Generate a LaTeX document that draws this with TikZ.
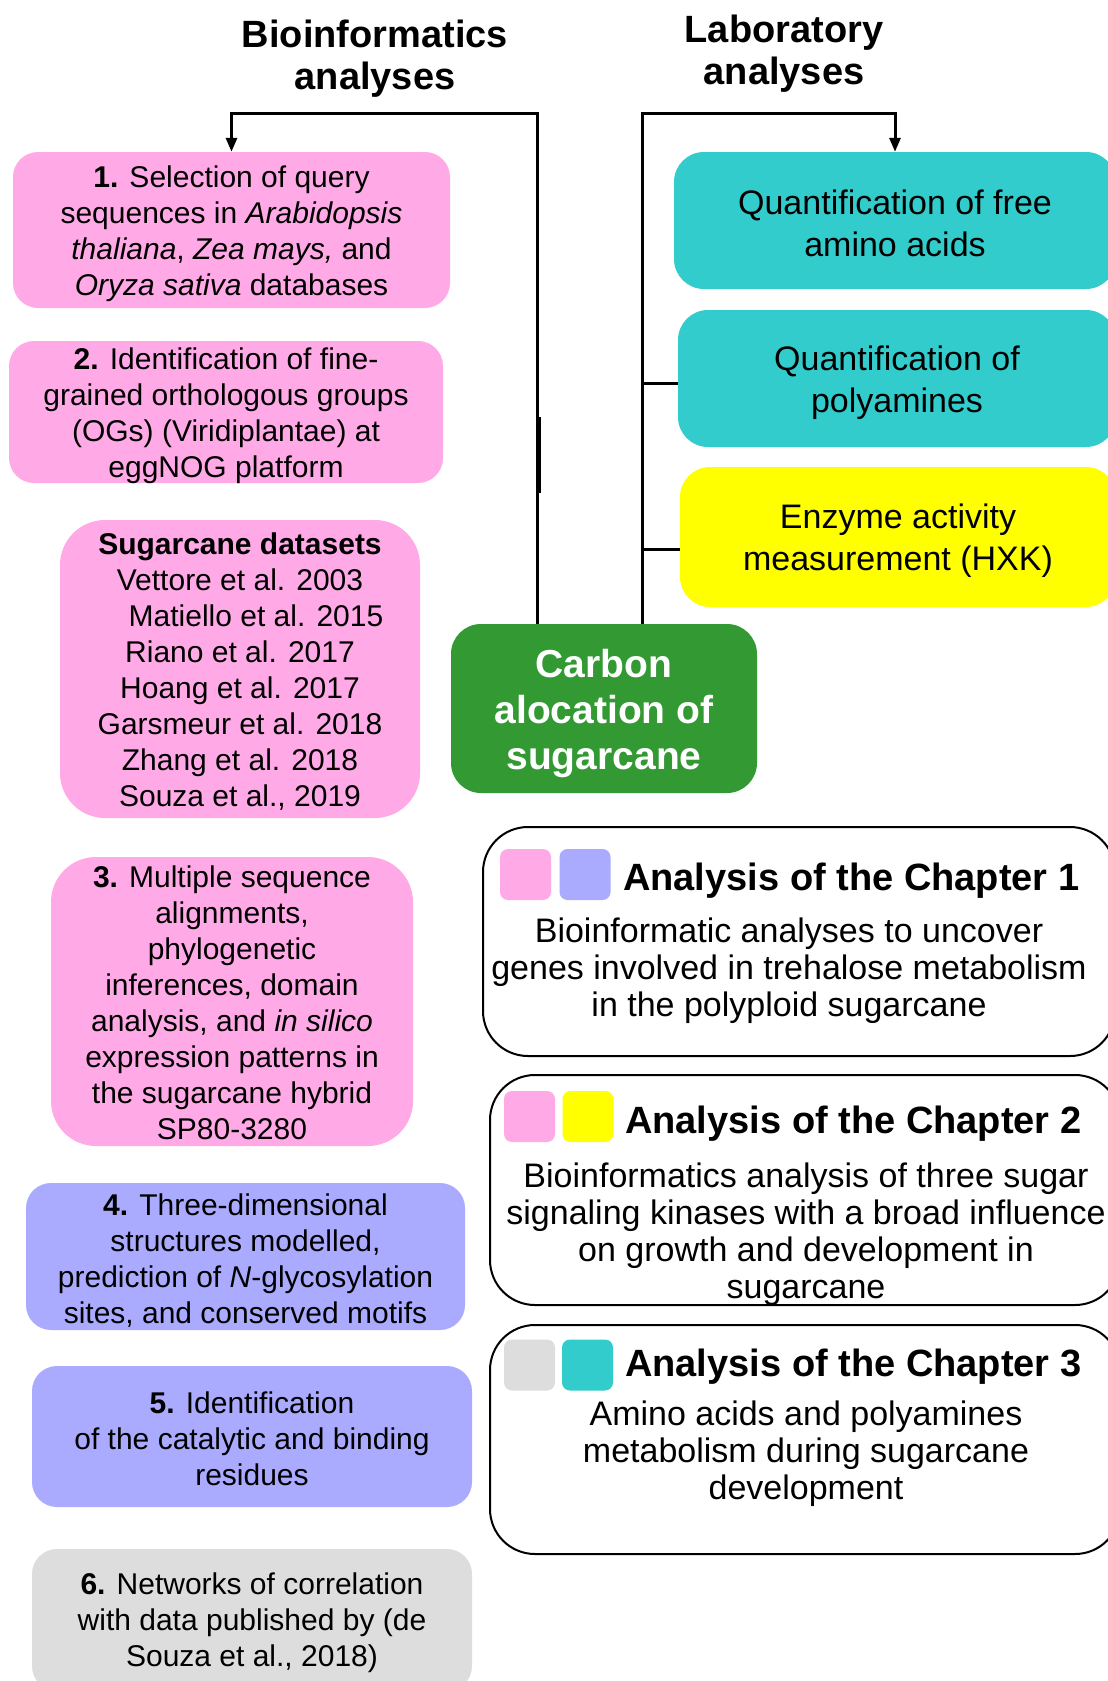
\documentclass[tikz,border=0pt]{standalone}
\usepackage{fontspec}
\setmainfont{Liberation Sans}
\usetikzlibrary{arrows.meta,calc}
\definecolor{cpink}{HTML}{FFAAE6}
\definecolor{clav}{HTML}{AAAAFF}
\definecolor{cgray}{HTML}{DDDDDD}
\definecolor{cteal}{HTML}{33CCCC}
\definecolor{cyel}{HTML}{FFFF00}
\definecolor{cgreen}{HTML}{339933}
\begin{document}
\begin{tikzpicture}[x=1pt,y=-1pt,
  box/.style={inner sep=0pt, anchor=center},
  txt/.style={inner sep=0pt, align=center, anchor=center},
  lefttxt/.style={txt, font=\fontsize{30}{36}\selectfont},
  labtxt/.style={txt, font=\fontsize{34}{42}\selectfont},
  headtxt/.style={font=\bfseries\fontsize{38}{42}\selectfont, align=center, inner sep=0pt},
  chbox/.style={box, draw=black, line width=2pt, fill=white, rounded corners=45pt},
  sq/.style={inner sep=0pt, minimum width=51pt, minimum height=51pt, rounded corners=8pt},
  chtitle/.style={font=\bfseries\fontsize{38}{42}\selectfont, anchor=west, inner sep=0pt},
  chbody/.style={font=\fontsize{34}{37}\selectfont, align=center, inner sep=0pt},
  conn/.style={line width=3pt},
  arr/.style={line width=3pt, -{Triangle[width=11pt,length=14pt]}}]
\useasboundingbox (0,0) rectangle (1108,1681);
\clip (0,0) rectangle (1108,1681);
\fill[white] (0,0) rectangle (1108,1681);

% headings
\node[headtxt] (hbio) at (375,59) {Bioinformatics\\analyses};
\node[headtxt] (hlab) at (784,54) {Laboratory\\analyses};

% left column boxes
\node[box, fill=cpink, rounded corners=25pt, minimum width=437pt, minimum height=156pt] (b1) at (231.5,230) {};
\node[lefttxt] (b1t) at ([yshift=-4pt]b1.center)
  {\textbf{1.} Selection of query\\sequences in \textit{Arabidopsis}\\\textit{thaliana}, \textit{Zea mays,} and\\\textit{Oryza sativa} databases};
\node[box, fill=cpink, rounded corners=25pt, minimum width=434pt, minimum height=142pt] (b2) at (226,412) {};
\node[lefttxt] (b2t) at ([yshift=-4pt]b2.center)
  {\textbf{2.} Identification of fine-\\grained orthologous groups\\(OGs) (Viridiplantae) at\\eggNOG platform};
\node[box, fill=cpink, rounded corners=45pt, minimum width=360pt, minimum height=298pt] (ds) at (240,669) {};
\node[lefttxt] (dst) at ([yshift=-3pt]ds.center)
  {\textbf{Sugarcane datasets}\\Vettore et al. 2003\\\hspace*{32pt}Matiello et al. 2015\\Riano et al. 2017\\Hoang et al. 2017\\Garsmeur et al. 2018\\Zhang et al. 2018\\Souza et al., 2019};
\node[box, fill=cpink, rounded corners=45pt, minimum width=362pt, minimum height=289pt] (b3) at (232,1001.5) {};
\node[lefttxt] (b3t) at ([yshift=-1.5pt]b3.center)
  {\textbf{3.} Multiple sequence\\alignments,\\phylogenetic\\inferences, domain\\analysis, and \textit{in silico}\\expression patterns in\\the sugarcane hybrid\\SP80-3280};
\node[box, fill=clav, rounded corners=25pt, minimum width=439pt, minimum height=147pt] (b4) at (245.5,1256.5) {};
\node[lefttxt] (b4t) at ([yshift=-4pt]b4.center)
  {\textbf{4.} Three-dimensional\\structures modelled,\\prediction of \textit{N}-glycosylation\\sites, and conserved motifs};
\node[box, fill=clav, rounded corners=25pt, minimum width=440pt, minimum height=141pt] (b5) at (252,1436.5) {};
\node[lefttxt] (b5t) at ([yshift=-2.5pt]b5.center)
  {\textbf{5.} Identification\\of the catalytic and binding\\residues};
\node[box, fill=cgray, rounded corners=25pt, minimum width=440pt, minimum height=142pt] (b6) at (252,1620) {};
\node[lefttxt] (b6t) at ([yshift=-3pt]b6.center)
  {\textbf{6.} Networks of correlation\\with data published by (de\\Souza et al., 2018)};

% right column boxes
\node[box, fill=cteal, rounded corners=30pt, minimum width=442pt, minimum height=137pt] (q1) at (895,220.5) {};
\node[labtxt] (q1t) at ([yshift=-2.5pt]q1.center) {Quantification of free\\amino acids};
\node[box, fill=cteal, rounded corners=30pt, minimum width=438pt, minimum height=137pt] (q2) at (897,378.5) {};
\node[labtxt] (q2t) at ([yshift=-4.5pt]q2.center) {Quantification of\\polyamines};
\node[box, fill=cyel, rounded corners=30pt, minimum width=436pt, minimum height=140pt] (y1) at (898,537) {};
\node[labtxt] (y1t) at ([yshift=-4pt]y1.center) {Enzyme activity\\measurement (HXK)};

% central green box
\node[box, fill=cgreen, rounded corners=30pt, minimum width=306pt, minimum height=169pt] (green) at (604,708.5) {};
\node[txt, text=white, font=\bfseries\fontsize{39}{46}\selectfont] (greent) at ([yshift=-5pt]green.center)
  {Carbon\\alocation of\\sugarcane};

% connectors
\coordinate (lx) at (537,113);
\coordinate (rx) at (642,113);
\draw[arr] (green.north -| lx) -- (lx) -| (b1.north);
\draw[arr] (green.north -| rx) -- (rx) -| (q1.north);
\draw[conn] ([yshift=-5pt]q2.west -| rx) -- ([yshift=-5pt]q2.west);
\draw[conn] ([yshift=-12pt]y1.west -| rx) -- ([yshift=-12pt]y1.west);
\draw[line width=3pt] ($(lx |- b2.center)+(2,5)$) -- ($(lx |- b2.center)+(2,81)$);

% chapter boxes
\node[chbox, minimum width=632pt, minimum height=229pt] (c1) at (799,941.5) {};
\node[sq, fill=cpink] (c1a) at (525.5,874.5) {};
\node[sq, fill=clav] (c1b) at (585,874.5) {};
\node[chtitle] (c1t) at (623,880.5) {Analysis of the Chapter 1};
\node[chbody] (c1d) at (789,971) {Bioinformatic analyses to uncover\\genes involved in trehalose metabolism\\in the polyploid sugarcane};

\node[chbox, minimum width=630pt, minimum height=230pt] (c2) at (805,1190) {};
\node[sq, fill=cpink] (c2a) at (529.5,1116.5) {};
\node[sq, fill=cyel] (c2b) at (588,1116.5) {};
\node[chtitle] (c2t) at (625,1124) {Analysis of the Chapter 2};
\node[chbody] (c2d) at (806,1234) {Bioinformatics analysis of three sugar\\signaling kinases with a broad influence\\on growth and development in\\sugarcane};

\node[chbox, minimum width=630pt, minimum height=229pt] (c3) at (805,1439.5) {};
\node[sq, fill=cgray] (c3a) at (529.5,1365) {};
\node[sq, fill=cteal] (c3b) at (587.5,1365) {};
\node[chtitle] (c3t) at (625,1367) {Analysis of the Chapter 3};
\node[chbody] (c3d) at (806,1454) {Amino acids and polyamines\\metabolism during sugarcane\\development};
\end{tikzpicture}
\end{document}
